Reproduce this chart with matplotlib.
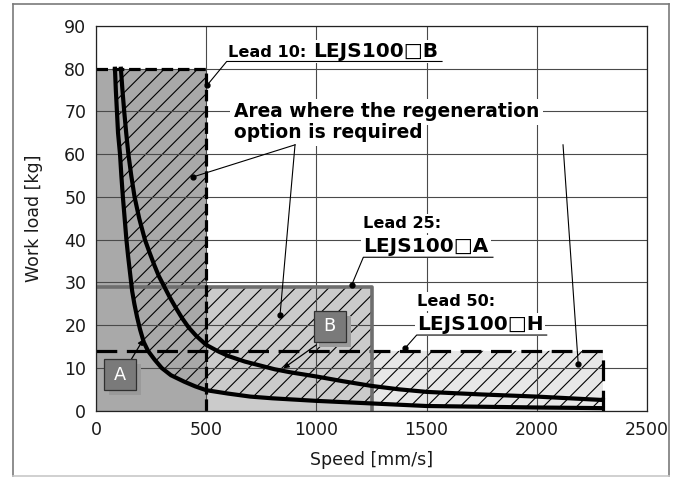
import matplotlib
matplotlib.use('Agg')
import matplotlib.pyplot as plt
from matplotlib.patches import Rectangle, Polygon
from matplotlib.lines import Line2D

plt.rcParams['font.family'] = ['DejaVu Sans']
plt.rcParams['hatch.linewidth'] = 0.8

# ---------------- data ----------------
speed_ticks = [0, 500, 1000, 1500, 2000, 2500]
load_ticks = [0, 10, 20, 30, 40, 50, 60, 70, 80, 90]

lead_names = ['Lead 10:', 'Lead 25:', 'Lead 50:']
model_names = ['LEJS100\u25a1B', 'LEJS100\u25a1A', 'LEJS100\u25a1H']
max_speed = [500, 1250, 2300]
max_load = [80, 29, 14]

curve_a_speed = [86, 90, 95, 100, 109, 115, 122, 130, 138, 146, 155, 164, 174, 186, 200, 217,
                 236, 265, 298, 340, 400, 450, 500, 600, 700, 800, 1000, 1250, 1500, 2000, 2300]
curve_a_load = [80, 75, 70, 65, 60, 55, 50, 45, 40, 36, 32, 28, 25, 22, 19, 16,
                14, 12, 10, 8.3, 6.8, 5.7, 4.8, 4.0, 3.3, 2.9, 2.3, 1.7, 1.1, 0.75, 0.6]

curve_b_speed = [113, 120, 128, 137, 147, 160, 175, 196, 222, 243, 265, 285, 310, 335, 363, 390,
                 420, 455, 500, 550, 600, 675, 750, 810, 880, 940, 1000, 1120, 1250, 1375, 1500,
                 1750, 2000, 2300]
curve_b_load = [80, 75, 70, 65, 60, 55, 50, 45, 40, 37, 34, 31.5, 29, 26.5, 24, 21.7,
                19.5, 17.5, 15.4, 14, 12.8, 11.5, 10.5, 9.7, 9.0, 8.5, 8.0, 6.9, 5.8, 5.0, 4.4,
                3.8, 3.3, 2.5]

region_text = ['Area where the regeneration', 'option is required']
curve_labels = ['A', 'B']

# ---------------- figure ----------------
fig = plt.figure(figsize=(6.76, 4.79), dpi=100)
ax = fig.add_axes([96 / 676, 1 - 410.7 / 479, (647 - 96) / 676, (410.7 - 26) / 479])
ax.set_xlim(0, 2500)
ax.set_ylim(0, 90)

# figure frame
fig.add_artist(Line2D([0.0188, 0.9896], [0.9916, 0.9916], color='#7a7a7a', lw=1.2))
fig.add_artist(Line2D([0.0188, 0.0188], [0.0063, 0.9916], color='#7a7a7a', lw=1.2))
fig.add_artist(Line2D([0.9896, 0.9896], [0.0063, 0.9916], color='#7a7a7a', lw=1.2))
fig.add_artist(Line2D([0.0188, 0.9896], [0.0063, 0.0063], color='#c8c8c8', lw=1.2))

# filled operating regions
fill_colors = ['#a9a9a9', '#cbcbcb', '#e7e7e7']
for i in [2, 1, 0]:
    ax.add_patch(Rectangle((0, 0), max_speed[i], max_load[i], facecolor=fill_colors[i],
                           edgecolor='none', zorder=1))

# hatched regeneration area (above curve A inside the regions)
verts = list(zip(curve_a_speed, curve_a_load))
verts += [(max_speed[2], max_load[2]), (max_speed[1], max_load[2]),
          (max_speed[1], max_load[1]), (max_speed[0], max_load[1]),
          (max_speed[0], max_load[0])]
ax.add_patch(Polygon(verts, closed=True, fill=False, hatch='//', edgecolor='black',
                     lw=0, zorder=1.5))

# grid
ax.set_xticks(speed_ticks)
ax.set_yticks(load_ticks)
ax.grid(True, color='#4a4a4a', lw=0.8)
ax.set_axisbelow(False)

# region borders
ax.plot([0, max_speed[2], max_speed[2]], [max_load[2], max_load[2], 0], color='black', lw=2.3,
        linestyle=(0, (6.5, 3.0)), zorder=3, dash_capstyle='butt')
ax.plot([0, max_speed[1], max_speed[1]], [max_load[1], max_load[1], 0], color='#6e6e6e', lw=2.6,
        zorder=3)
ax.plot([0, max_speed[0], max_speed[0]], [max_load[0], max_load[0], 0], color='black', lw=2.3,
        linestyle=(0, (3.6, 1.5)), zorder=3, dash_capstyle='butt')

# curves
ax.plot(curve_a_speed, curve_a_load, color='black', lw=3.0, zorder=4, solid_joinstyle='round')
ax.plot(curve_b_speed, curve_b_load, color='black', lw=3.0, zorder=4, solid_joinstyle='round')

# ---------------- labels ----------------
wb = dict(facecolor='white', edgecolor='none', pad=1.5)
# Lead 10
ax.text(599, 82.8, lead_names[0], fontsize=11.6, fontweight='bold', va='baseline', ha='left',
        bbox=wb, zorder=6)
ax.text(983, 82.8, model_names[0], fontsize=14.5, fontweight='bold', va='baseline', ha='left',
        bbox=wb, zorder=6)
ax.plot([505, 593, 1570], [76.2, 81.7, 81.7], color='black', lw=0.8, zorder=7)
ax.plot([505], [76.2], 'o', color='black', ms=3.5, zorder=7)

# Lead 25
ax.text(1213, 42.8, lead_names[1], fontsize=11.6, fontweight='bold', va='baseline', ha='left',
        bbox=wb, zorder=6)
ax.text(1213, 37.2, model_names[1], fontsize=14.5, fontweight='bold', va='baseline', ha='left',
        bbox=wb, zorder=6)
ax.plot([1160, 1213, 1801], [29.4, 35.9, 35.9], color='black', lw=0.8, zorder=7)
ax.plot([1160], [29.4], 'o', color='black', ms=3.5, zorder=7)

# Lead 50
ax.text(1455, 24.5, lead_names[2], fontsize=11.6, fontweight='bold', va='baseline', ha='left',
        bbox=wb, zorder=6)
ax.text(1455, 18.9, model_names[2], fontsize=14.5, fontweight='bold', va='baseline', ha='left',
        bbox=wb, zorder=6)
ax.plot([1402, 1455, 2045], [14.6, 17.7, 17.7], color='black', lw=0.8, zorder=7)
ax.plot([1402], [14.6], 'o', color='black', ms=3.5, zorder=7)

# Regeneration area text
ax.text(626, 68.7, region_text[0], fontsize=13.4, fontweight='bold', va='baseline', ha='left',
        bbox=dict(facecolor='white', edgecolor='none', pad=2.5), zorder=6)
ax.text(626, 63.7, region_text[1], fontsize=13.4, fontweight='bold', va='baseline', ha='left',
        bbox=dict(facecolor='white', edgecolor='none', pad=2.5), zorder=6)
for (x0, y0), (x1, y1) in [((903, 62.2), (441, 54.7)), ((903, 62.2), (835, 22.4)),
                           ((2119, 62.2), (2188, 10.9))]:
    ax.plot([x0, x1], [y0, y1], color='black', lw=0.8, zorder=7)
    ax.plot([x1], [y1], 'o', color='black', ms=3.5, zorder=7)

# A / B tags
box_w, box_h = 145, 7.25
sh_dx, sh_dy = 22.7, -1.17
for lab, (cx, cy), (ax0, ay0), (ax1, ay1) in [
        (curve_labels[0], (109, 8.4), (160, 12.0), (215, 16.7)),
        (curve_labels[1], (1060, 19.7), (1000, 15.4), (850, 9.9))]:
    ax.annotate('', xy=(ax1, ay1), xytext=(ax0, ay0),
                arrowprops=dict(arrowstyle='-|>', color='black', lw=0.9,
                                mutation_scale=8, shrinkA=0, shrinkB=0), zorder=7)
    ax.add_patch(Rectangle((cx - box_w / 2 + sh_dx, cy - box_h / 2 + sh_dy), box_w, box_h,
                           facecolor='#9a9a9a', edgecolor='none', zorder=8))
    ax.add_patch(Rectangle((cx - box_w / 2, cy - box_h / 2), box_w, box_h,
                           facecolor='#7a7a7a', edgecolor='#303030', lw=0.9, zorder=9))
    ax.text(cx, cy, lab, color='white', fontsize=12.8, ha='center', va='center', zorder=10)

# axes styling
for s in ax.spines.values():
    s.set_color('#222222')
    s.set_linewidth(0.9)
    s.set_zorder(5)
ax.tick_params(length=0, labelsize=12.5, colors='#1a1a1a')
ax.tick_params(axis='y', pad=7)
ax.tick_params(axis='x', pad=7.5)
ax.set_xlabel('Speed [mm/s]', fontsize=12.5, color='#1a1a1a')
ax.set_ylabel('Work load [kg]', fontsize=12.5, color='#1a1a1a')
ax.xaxis.set_label_coords(0.5, -0.105)
ax.yaxis.set_label_coords(-0.097, 0.5)

fig.savefig('out.png', dpi=100)
